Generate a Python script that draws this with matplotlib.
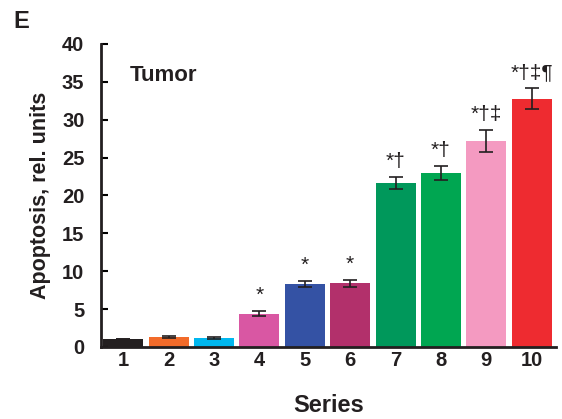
import matplotlib.pyplot as plt

plt.rcParams["font.family"] = ["Liberation Sans", "DejaVu Sans"]

# bar data
series = [1, 2, 3, 4, 5, 6, 7, 8, 9, 10]
values = [1.05, 1.3, 1.15, 4.4, 8.3, 8.4, 21.6, 23.0, 27.2, 32.8]
errors = [0.0, 0.15, 0.1, 0.3, 0.4, 0.5, 0.8, 0.9, 1.4, 1.4]
marks = ["", "", "", "*", "*", "*", "*\u2020", "*\u2020", "*\u2020\u2021", "*\u2020\u2021\u00b6"]
colors = ["#231f20", "#f26b2a", "#00b7ef", "#d957a3", "#3452a4", "#b2306b",
          "#00985b", "#00a651", "#f49ac1", "#ee2b30"]

fig = plt.figure(figsize=(5.62, 4.19), dpi=100)
ax = fig.add_axes([0.18, 0.172, 0.809, 0.723])

ax.bar(series, values, width=0.88, color=colors, yerr=errors,
       error_kw=dict(ecolor="#231f20", elinewidth=1.2, capsize=5, capthick=1.2))

for x, v, e, m in zip(series, values, errors, marks):
    if m:
        ax.text(x, v + e + 0.8, m, ha="center", va="bottom", fontsize=15,
                color="#231f20")

ax.set_xlim(0.516, 10.53)
ax.set_ylim(0, 40)
ax.set_yticks(range(0, 41, 5))
ax.set_xticks(series)
ax.tick_params(axis="y", direction="in", length=5, width=1.5, labelsize=14.5, pad=12)
ax.tick_params(axis="x", length=0, labelsize=14.5, pad=3)
for lab in ax.get_xticklabels() + ax.get_yticklabels():
    lab.set_fontweight("bold")
    lab.set_color("#231f20")

ax.spines["top"].set_visible(False)
ax.spines["right"].set_visible(False)
ax.spines["left"].set_linewidth(2)
ax.spines["bottom"].set_linewidth(2)
ax.spines["left"].set_color("#231f20")
ax.spines["bottom"].set_color("#231f20")

ax.set_xlabel("Series", fontsize=17, fontweight="bold", color="#231f20", labelpad=17)
ax.set_ylabel("Apoptosis, rel. units", fontsize=15.5, fontweight="bold",
              color="#231f20", labelpad=8)
ax.text(0.062, 0.895, "Tumor", transform=ax.transAxes, fontsize=16,
        fontweight="bold", color="#231f20", va="center")
fig.text(0.023, 0.949, "E", fontsize=17, fontweight="bold", color="#231f20",
         va="center")

fig.savefig("out.png", dpi=100)
